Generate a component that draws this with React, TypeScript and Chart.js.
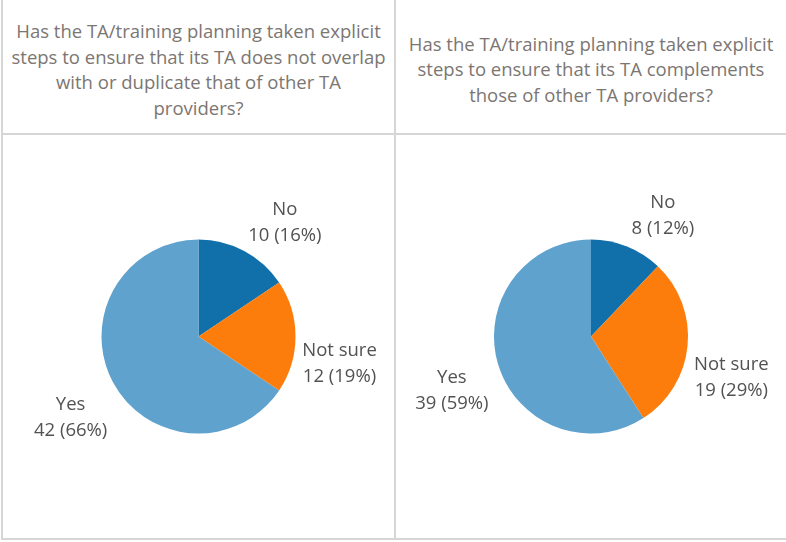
import React, { useEffect, useRef } from "react";
import { Chart, registerables } from "chart.js";

Chart.register(...registerables);

// ---- data ----
const categories = ["No", "Not sure", "Yes"];
const overlapCounts = [10, 12, 42];
const complementCounts = [8, 19, 39];
const overlapTitle = [
  "Has the TA/training planning taken explicit",
  "steps to ensure that its TA does not overlap",
  "with or duplicate that of other TA",
  "providers?",
];
const complementTitle = [
  "Has the TA/training planning taken explicit",
  "steps to ensure that its TA complements",
  "those of other TA providers?",
];

// ---- styles ----
const sliceColors = ["#1170aa", "#fc7d0b", "#5fa2ce"];
const labelNudge = [
  [18, 1],
  [-4, 14],
  [0, 0],
];
const FONT = "'Open Sans', 'Noto Sans', sans-serif";
const GRID = "#d6d6d6";

const labelPlugin = {
  id: "sliceLabels",
  afterDatasetsDraw(chart: any) {
    const ctx = chart.ctx;
    const meta = chart.getDatasetMeta(0);
    const data: number[] = chart.data.datasets[0].data;
    const total = data.reduce((a, b) => a + b, 0);
    ctx.save();
    ctx.font = `18.5px ${FONT}`;
    ctx.fillStyle = "#525252";
    ctx.textAlign = "center";
    ctx.textBaseline = "middle";
    meta.data.forEach((arc: any, i: number) => {
      const p = arc.getProps(["x", "y", "startAngle", "endAngle", "outerRadius"], true);
      const mid = (p.startAngle + p.endAngle) / 2;
      const dist = p.outerRadius + 48;
      const x = p.x + Math.cos(mid) * dist + labelNudge[i][0];
      const y = p.y + Math.sin(mid) * dist + labelNudge[i][1];
      const pct = Math.round((data[i] / total) * 100);
      ctx.fillText(chart.data.labels[i], x, y);
      ctx.fillText(`${data[i]} (${pct}%)`, x, y + 26);
    });
    ctx.restore();
  },
};

function Pie({ values, width, height }: { values: number[]; width: number; height: number }) {
  const ref = useRef<HTMLCanvasElement>(null);
  useEffect(() => {
    if (!ref.current) return;
    const chart = new Chart(ref.current, {
      type: "pie",
      data: {
        labels: categories,
        datasets: [
          {
            data: values,
            backgroundColor: sliceColors,
            borderWidth: 0,
            radius: 97,
          } as any,
        ],
      },
      options: {
        responsive: false,
        animation: false,
        layout: { padding: 0 },
        plugins: { legend: { display: false }, tooltip: { enabled: false } },
      },
      plugins: [labelPlugin],
    });
    return () => chart.destroy();
  }, [values]);
  return <canvas ref={ref} width={width} height={height} style={{ width, height, display: "block" }} />;
}

function Header({ lines }: { lines: string[] }) {
  return (
    <div
      style={{
        height: "100%",
        display: "flex",
        flexDirection: "column",
        justifyContent: "center",
        alignItems: "center",
        fontFamily: FONT,
        fontSize: 18.5,
        lineHeight: "25.5px",
        color: "#7c7672",
        textAlign: "center",
        whiteSpace: "nowrap",
      }}
    >
      {lines.map((l, i) => (
        <div key={i}>{l}</div>
      ))}
    </div>
  );
}

export default function App() {
  useEffect(() => {
    document.body.style.margin = "0";
  }, []);
  const abs = (l: number, t: number, w: number, h: number, extra: any = {}) => ({
    position: "absolute" as const,
    left: l,
    top: t,
    width: w,
    height: h,
    ...extra,
  });
  return (
    <div style={{ position: "absolute", left: 0, top: 0, width: 786, height: 542, background: "#fff", overflow: "hidden" }}>
      <div style={abs(3, 3, 391, 132)}>
        <Header lines={overlapTitle} />
      </div>
      <div style={abs(396, 3, 390, 132)}>
        <Header lines={complementTitle} />
      </div>
      <div style={abs(3, 135, 391, 403)}>
        <Pie values={overlapCounts} width={391} height={403} />
      </div>
      <div style={abs(396, 135, 390, 403)}>
        <Pie values={complementCounts} width={390} height={403} />
      </div>
      <div style={abs(1, 0, 2, 540, { background: GRID })} />
      <div style={abs(394, 0, 2, 540, { background: GRID })} />
      <div style={abs(1, 133, 785, 2, { background: GRID })} />
      <div style={abs(1, 538, 785, 2, { background: GRID })} />
    </div>
  );
}
